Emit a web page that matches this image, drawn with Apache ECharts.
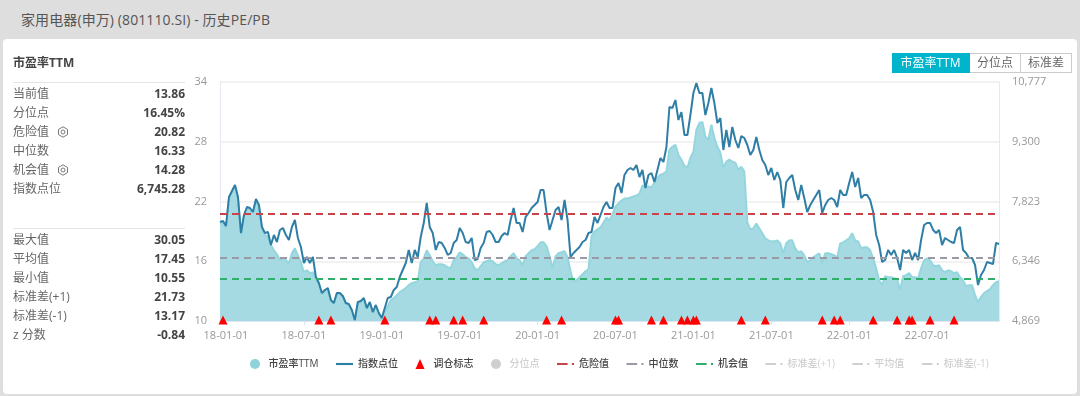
<!DOCTYPE html>
<html>
<head>
<meta charset="utf-8">
<title>家用电器(申万) - 历史PE/PB</title>
<script src="https://cdn.jsdelivr.net/npm/echarts@6/dist/echarts.min.js"></script>
<style>
  html, body { margin: 0; width: 1080px; height: 396px; overflow: hidden; background: #dedede; }
  body, #chart { font-family: "Open Sans", "Noto Sans CJK SC", sans-serif; }
  .head { position: absolute; left: 21px; top: 10px; font-size: 14px; line-height: 20px; color: #555; letter-spacing: 0.1px; }
  .card { position: absolute; left: 3px; top: 39px; width: 1074px; height: 355px; background: #fff; border-radius: 4px; }
  #chart { position: absolute; left: 0; top: 0; width: 1080px; height: 396px; }
  .side { position: absolute; left: 13px; width: 172px; font-size: 12px; color: #666; }
  .row { height: 19px; line-height: 19px; display: flex; justify-content: space-between; }
  .row b { color: #444; }
  .row svg { vertical-align: -2px; margin-left: 8px; }
  .box { border-top: 1px solid #e4e4e4; padding-top: 1px; }
  .title { position: absolute; left: 13px; top: 54px; font-size: 12px; line-height: 17px; font-weight: bold; color: #444; }
  .btns { position: absolute; left: 892px; top: 53px; display: flex; font-size: 12px; line-height: 18px; color: #666; border-radius: 2px; }
  .btns div { border: 1px solid #ccc; border-left: 0; text-align: center; box-sizing: border-box; height: 20px; }
  .btns div.on { background: #00b4cc; border-color: #00b4cc; color: #fff; width: 78px; }
</style>
</head>
<body>
<div class="head">家用电器(申万) (801110.SI) - 历史PE/PB</div>
<div class="card"></div>
<div id="chart"></div>
<div class="title">市盈率TTM</div>
<div class="side box" id="statsTop" style="top:82px"></div>
<div class="side box" id="statsBottom" style="top:228px"></div>
<div class="btns" id="btns"></div>
<script>
var startDate = '2017-12-20';
var tickLabels = ['18-01-01', '18-07-01', '19-01-01', '19-07-01', '20-01-01', '20-07-01', '21-01-01', '21-07-01', '22-01-01', '22-07-01'];
var peTicks = [10, 16, 22, 28, 34];
var indexTicks = [4869, 6346, 7823, 9300, 10777];

// weekly readings
var peValues = [
  19.8, 19.9, 19.4, 22.3, 23.0, 23.6, 22.3, 18.7, 20.5, 21.3, 21.2, 20.8, 22.1, 21.5, 19.3, 18.6, 18.5, 17.6, 17.1, 16.7,
  16.1, 16.3, 16.1, 15.8, 16.8, 17.3, 16.6, 15.9, 14.9, 15.1, 14.8, 14.9, 14.3, 13.7, 12.7, 13.0, 13.2, 12.0, 11.7, 12.7,
  12.7, 12.4, 11.7, 11.6, 11.0, 10.1, 11.8, 11.9, 12.2, 11.2, 11.8, 10.8, 11.5, 10.7, 10.2, 10.9, 11.5, 12.1, 12.3, 12.6,
  12.9, 13.1, 13.3, 13.6, 13.8, 13.9, 14.0, 15.9, 16.3, 17.1, 16.6, 16.0, 15.6, 15.7, 15.7, 15.6, 15.4, 15.3, 16.1, 16.4,
  16.9, 16.7, 16.4, 16.3, 15.9, 15.3, 15.1, 15.5, 15.9, 16.0, 16.1, 16.0, 15.7, 15.6, 15.8, 16.0, 16.1, 16.5, 16.8, 16.3,
  16.1, 15.6, 16.5, 16.8, 17.1, 17.2, 17.5, 17.9, 17.9, 17.5, 16.5, 15.3, 16.5, 16.8, 16.9, 17.0, 16.4, 15.0, 13.9, 14.1,
  14.4, 14.7, 15.0, 15.2, 18.5, 19.0, 19.2, 19.4, 19.9, 20.4, 20.1, 20.7, 21.5, 21.8, 22.1, 22.3, 22.3, 22.4, 22.5, 22.6,
  22.8, 23.6, 23.5, 23.5, 23.4, 23.9, 24.4, 24.7, 24.8, 25.0, 27.2, 27.5, 27.7, 26.7, 26.2, 25.6, 25.4, 26.4, 27.0, 29.2,
  29.9, 30.0, 28.5, 28.2, 29.7, 28.4, 27.5, 26.9, 25.4, 26.0, 26.2, 26.0, 25.9, 25.2, 25.5, 25.0, 19.9, 19.2, 19.3, 19.8,
  19.3, 18.8, 18.3, 18.1, 18.0, 18.0, 18.1, 17.8, 16.8, 17.8, 18.1, 18.1, 17.3, 16.9, 17.0, 16.6, 15.9, 16.1, 16.4, 16.6,
  16.8, 15.8, 16.8, 16.8, 16.7, 16.6, 16.4, 17.8, 17.9, 18.1, 18.3, 18.8, 18.1, 18.0, 17.3, 17.4, 17.4, 17.1, 16.3, 15.3,
  14.1, 13.6, 14.5, 14.4, 14.4, 14.3, 14.2, 13.1, 14.5, 14.6, 14.8, 14.4, 14.4, 14.3, 15.3, 16.1, 16.3, 16.1, 15.6, 15.5,
  15.6, 15.1, 14.9, 15.1, 15.0, 14.8, 14.9, 14.4, 14.1, 13.5, 13.6, 13.6, 12.6, 11.9, 12.4, 12.8, 13.0, 13.2, 13.6, 13.9,
  14.0
];
var indexValues = [
  7316, 7341, 7217, 7934, 8083, 8231, 7934, 7044, 7489, 7687, 7662, 7563, 7885, 7736, 7193, 7044, 7069, 6748, 6995, 6822,
  7119, 7168, 6995, 6871, 7193, 7366, 6921, 6698, 6303, 6451, 6303, 6451, 5957, 5808, 5561, 5635, 5685, 5388, 5314, 5561,
  5561, 5487, 5314, 5289, 5141, 4894, 5339, 5363, 5438, 5190, 5339, 5091, 5265, 5067, 4943, 5190, 5438, 5462, 5635, 5709,
  5957, 6130, 6303, 6624, 6303, 6624, 6451, 6945, 7292, 7786, 7193, 7044, 6624, 6822, 6797, 6674, 6501, 6550, 6797, 6871,
  7168, 7044, 6822, 6797, 6921, 6377, 6402, 6674, 6797, 7069, 7094, 6995, 6822, 6822, 6970, 7044, 6995, 7366, 7662, 7292,
  7292, 7069, 7440, 7539, 7662, 7736, 7811, 8107, 8107, 7539, 7119, 7366, 7613, 7687, 7366, 7860, 7366, 6451, 6550, 6624,
  6698, 6822, 6871, 7044, 7069, 7440, 7292, 7489, 7687, 7811, 7662, 7662, 8157, 8280, 8033, 8478, 8602, 8651, 8602, 8725,
  8429, 8602, 8157, 8478, 8528, 8305, 8602, 8898, 8800, 9170, 10159, 10134, 10332, 9838, 10035, 9467, 9467, 9961, 10505, 10752,
  10505, 10505, 9961, 10258, 10629, 10258, 9764, 9887, 9096, 9591, 9170, 9665, 9343, 9146, 9442, 9393, 9220, 8973, 9096, 9417,
  9096, 8849, 8725, 8478, 8651, 8355, 8552, 8355, 7662, 8305, 8404, 8478, 8107, 7860, 8231, 7910, 7563, 7736, 7860, 7984,
  8107, 7539, 7736, 7860, 7910, 7860, 7687, 8107, 7984, 7984, 8280, 8552, 8181, 8404, 7910, 7984, 7984, 7860, 7563, 6995,
  6748, 6327, 6377, 6624, 6501, 6624, 6426, 6130, 6624, 6550, 6624, 6377, 6550, 6377, 6871, 7242, 7292, 7292, 7119, 7044,
  7119, 6748, 6921, 6871, 6822, 6797, 7119, 7193, 6624, 6550, 6426, 6426, 6253, 5759, 6006, 6130, 6327, 6303, 6278, 6797,
  6772
];
// weeks (counted from startDate) that carry a rebalance mark
var rebalanceWeeks = [1, 33, 37, 55, 70, 72, 78, 81, 88, 109, 114, 132, 133, 144, 148, 154, 156, 158, 159, 174, 182, 201, 205, 207, 218, 226, 230, 231, 237, 245];

var dangerValue = 20.82, medianValue = 16.33, chanceValue = 14.28;
var stdUpper = 21.73, meanValue = 17.45, stdLower = 13.17;

var statsTop = [['当前值', '13.86'], ['分位点', '16.45%'], ['危险值', '20.82', 1], ['中位数', '16.33'], ['机会值', '14.28', 1], ['指数点位', '6,745.28']];
var statsBottom = [['最大值', '30.05'], ['平均值', '17.45'], ['最小值', '10.55'], ['标准差(+1)', '21.73'], ['标准差(-1)', '13.17'], ['z 分数', '-0.84']];
var buttons = ['市盈率TTM', '分位点', '标准差'];
var buttonWidths = [78, 51, 51];

var gear = '<svg width="12" height="12" viewBox="0 0 12 12"><path d="M6 .8l4.500 2.600v5.200L6 11.200 1.500 8.600V3.400z" fill="none" stroke="#777"/><circle cx="6" cy="6" r="2" fill="none" stroke="#777"/></svg>';
function fillStats(id, rows) {
  document.getElementById(id).innerHTML = rows.map(function(r) {
    return '<div class="row"><span>' + r[0] + (r[2] ? gear : '') + '</span><b>' + r[1] + '</b></div>';
  }).join('');
}
fillStats('statsTop', statsTop);
fillStats('statsBottom', statsBottom);
document.getElementById('btns').innerHTML = buttons.map(function(b, i) {
  return '<div class="' + (i === 0 ? 'on' : '') + '" style="width:' + buttonWidths[i] + 'px">' + b + '</div>';
}).join('');

var dayMs = 86400000;
var t0 = Date.parse(startDate);
var categories = peValues.map(function(v, i) {
  return new Date(t0 + i * 7 * dayMs).toISOString().slice(0, 10);
});
// the tick label sits on the week nearest its date
var tickAt = {};
tickLabels.forEach(function(l) {
  tickAt[Math.round((Date.parse('20' + l) - t0) / dayMs / 7)] = l;
});

var lineIcon = 'path://M0 0h16v2H0z';
var dashIcon = 'path://M0 0h10v2H0z M14 0h2v2h-2z';
var triIcon = 'path://M4.500 0L9 10H0z';

function thresholdSeries(name, value, color) {
  return {
    name: name,
    type: 'line',
    yAxisIndex: 0,
    data: [],
    symbol: 'none',
    lineStyle: { color: color, type: [7, 5], width: 2 },
    itemStyle: { color: color },
    markLine: {
      silent: true,
      symbol: 'none',
      label: { show: false },
      lineStyle: { color: color, type: [7, 5], width: 2 },
      data: [{ yAxis: value }]
    }
  };
}

var chart = echarts.init(document.getElementById('chart'));
chart.setOption({
  animation: false,
  textStyle: { fontFamily: '"Open Sans", "Noto Sans CJK SC", sans-serif' },
  grid: { left: 220, right: 81, top: 82, bottom: 75 },
  legend: {
    left: 245,
    top: 354,
    itemWidth: 17,
    itemHeight: 10,
    itemGap: 17.5,
    inactiveColor: '#cfcfcf',
    textStyle: { fontSize: 10, color: '#444', fontWeight: 500 },
    selected: { '分位点': false, '标准差(+1)': false, '平均值': false, '标准差(-1)': false },
    data: [
      { name: '市盈率TTM', icon: 'circle' },
      { name: '指数点位', icon: lineIcon },
      { name: '调仓标志', icon: triIcon },
      { name: '分位点', icon: 'circle' },
      { name: '危险值', icon: dashIcon }, { name: '中位数', icon: dashIcon }, { name: '机会值', icon: dashIcon },
      { name: '标准差(+1)', icon: dashIcon }, { name: '平均值', icon: dashIcon }, { name: '标准差(-1)', icon: dashIcon }
    ]
  },
  xAxis: {
    type: 'category',
    boundaryGap: false,
    data: categories,
    axisLine: { lineStyle: { color: '#e0e6f1', width: 2 } },
    axisTick: { length: 4, lineStyle: { color: '#e0e6f1' }, interval: function(i) { return tickAt[i] !== undefined; } },
    axisLabel: {
      color: '#999',
      fontSize: 11,
      margin: 9,
      interval: function(i) { return tickAt[i] !== undefined; },
      formatter: function(v, i) { return tickAt[i] || ''; }
    }
  },
  yAxis: [{
    type: 'value',
    min: peTicks[0],
    max: peTicks[peTicks.length - 1],
    axisLine: { show: true, lineStyle: { color: '#e6e9f0' } },
    axisTick: { show: false, customValues: peTicks },
    axisLabel: { color: '#999', fontSize: 11, margin: 13, customValues: peTicks },
    splitLine: { lineStyle: { color: '#eeeeee', width: 1.5 } }
  }, {
    type: 'value',
    min: indexTicks[0],
    max: indexTicks[indexTicks.length - 1],
    axisLine: { show: true, lineStyle: { color: '#e6e9f0' } },
    axisTick: { show: false, customValues: indexTicks },
    axisLabel: { color: '#999', fontSize: 11, margin: 13, customValues: indexTicks },
    splitLine: { show: false }
  }],
  series: [{
    name: '市盈率TTM',
    type: 'line',
    yAxisIndex: 0,
    data: peValues,
    symbol: 'none',
    itemStyle: { color: '#8ed2dc' },
    lineStyle: { color: '#94d6de', width: 2 },
    areaStyle: { color: '#a5dae2', opacity: 1 }
  }, {
    name: '指数点位',
    type: 'line',
    yAxisIndex: 1,
    data: indexValues,
    symbol: 'none',
    z: 4,
    itemStyle: { color: '#2f7ea6' },
    lineStyle: { color: '#2f7ea6', width: 2 }
  }, {
    name: '调仓标志',
    type: 'scatter',
    yAxisIndex: 0,
    clip: false,
    z: 5,
    symbol: 'triangle',
    symbolSize: [9, 9],
    symbolOffset: [0, -1],
    itemStyle: { color: '#ff0000', opacity: 1 },
    data: rebalanceWeeks.map(function(w) { return [w, peTicks[0]]; })
  }, {
    name: '分位点',
    type: 'line',
    yAxisIndex: 0,
    data: [],
    symbol: 'none',
    itemStyle: { color: '#ccc' }
  },
  thresholdSeries('危险值', dangerValue, '#c9444a'),
  thresholdSeries('中位数', medianValue, '#9a9aa6'),
  thresholdSeries('机会值', chanceValue, '#2fae6c'),
  thresholdSeries('标准差(+1)', stdUpper, '#bbb'),
  thresholdSeries('平均值', meanValue, '#bbb'),
  thresholdSeries('标准差(-1)', stdLower, '#bbb')]
});
</script>
</body>
</html>
